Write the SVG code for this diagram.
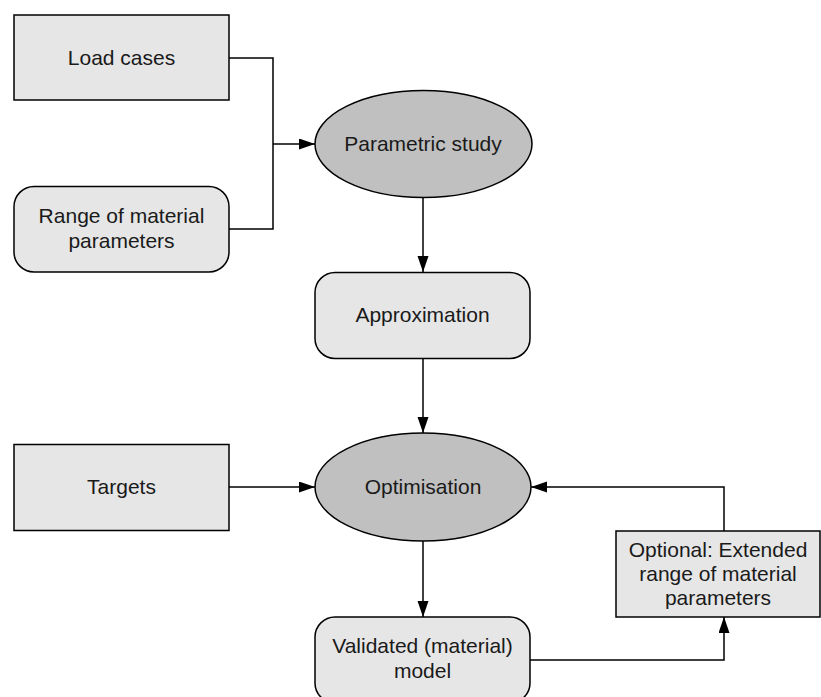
<svg xmlns="http://www.w3.org/2000/svg" width="821" height="697" viewBox="0 0 821 697">
<defs>
<style>
.box{fill:#e6e6e6;stroke:#000;stroke-width:1.5}
.ell{fill:#c0c0c0;stroke:#000;stroke-width:1.5}
.lbl{font-family:"Liberation Sans",Arial,sans-serif;font-size:21px;fill:#1a1a1a;text-anchor:middle}
.con{fill:none;stroke:#000;stroke-width:1.5}
</style>
<marker id="arr" markerUnits="userSpaceOnUse" markerWidth="17" markerHeight="12" refX="16" refY="5.5" orient="auto">
<path d="M0,0 L16,5.5 L0,11 z" fill="#000"/>
</marker>
</defs>
<rect width="821" height="697" fill="#fff"/>
<g id="connectors">
<polyline class="con" points="229,58 273,58 273,229 229,229"/>
<line class="con" x1="273" y1="144" x2="315" y2="144" marker-end="url(#arr)"/>
<line class="con" x1="423" y1="197" x2="423" y2="272" marker-end="url(#arr)"/>
<line class="con" x1="423" y1="359" x2="423" y2="433" marker-end="url(#arr)"/>
<line class="con" x1="229" y1="487" x2="315" y2="487" marker-end="url(#arr)"/>
<line class="con" x1="423" y1="541" x2="423" y2="617" marker-end="url(#arr)"/>
<polyline class="con" points="530,660 724,660 724,617" marker-end="url(#arr)"/>
<polyline class="con" points="724,531 724,487 531,487" marker-end="url(#arr)"/>
</g>
<g id="load-cases">
<rect class="box" x="14" y="15" width="215" height="85"/>
<text class="lbl" x="121.5" y="65">Load cases</text>
</g>
<g id="range">
<rect class="box" x="14" y="186.5" width="215" height="85.5" rx="20" ry="20"/>
<text class="lbl" x="121.5" y="223">Range of material</text>
<text class="lbl" x="121.5" y="248">parameters</text>
</g>
<g id="parametric-study">
<ellipse class="ell" cx="423.5" cy="144" rx="108.5" ry="53.5"/>
<text class="lbl" x="423" y="151">Parametric study</text>
</g>
<g id="approximation">
<rect class="box" x="315" y="272.5" width="215" height="86" rx="20" ry="20"/>
<text class="lbl" x="422.5" y="322">Approximation</text>
</g>
<g id="targets">
<rect class="box" x="14" y="444.5" width="215" height="86"/>
<text class="lbl" x="121.5" y="494">Targets</text>
</g>
<g id="optimisation">
<ellipse class="ell" cx="423" cy="487" rx="108" ry="54"/>
<text class="lbl" x="423" y="494">Optimisation</text>
</g>
<g id="optional">
<rect class="box" x="616" y="531" width="204" height="86"/>
<text class="lbl" x="718" y="557">Optional: Extended</text>
<text class="lbl" x="718" y="581">range of material</text>
<text class="lbl" x="718" y="605">parameters</text>
</g>
<g id="validated-model">
<rect class="box" x="315" y="617" width="215" height="86" rx="20" ry="20"/>
<text class="lbl" x="422.5" y="653">Validated (material)</text>
<text class="lbl" x="422.5" y="678">model</text>
</g>
</svg>
